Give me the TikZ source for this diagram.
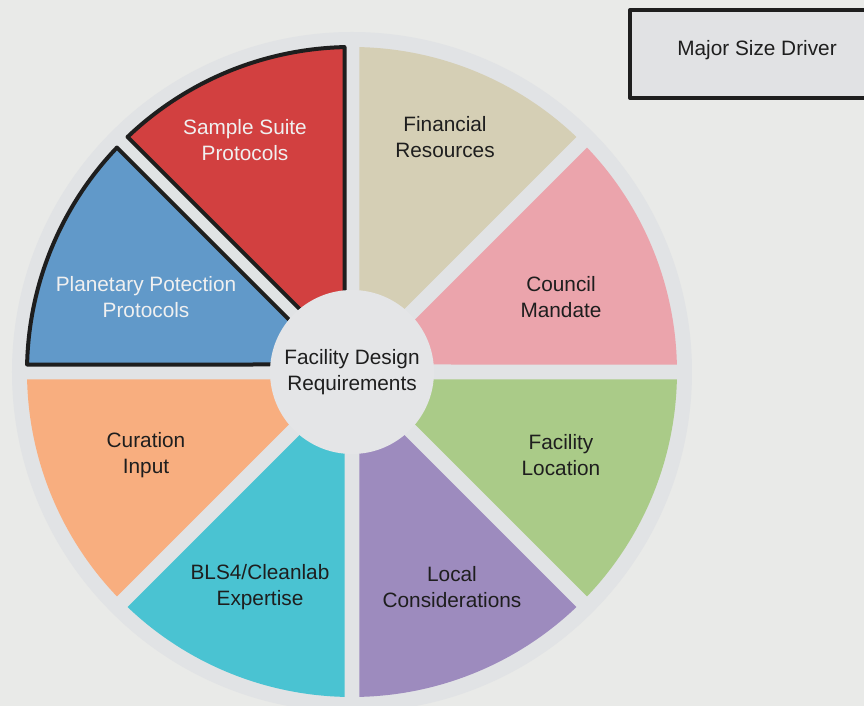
\documentclass[tikz,border=0pt]{standalone}
\usepackage{fontspec}
\setmainfont{Liberation Sans}
\definecolor{pageback}{RGB}{233,234,232}
\definecolor{diskgray}{RGB}{225,227,229}
\definecolor{hubgray}{RGB}{228,229,231}
\definecolor{boxgray}{RGB}{225,226,228}
\definecolor{inkdark}{RGB}{30,30,30}
\definecolor{inkwhite}{RGB}{240,240,240}
\definecolor{councilpink}{RGB}{235,164,172}
\definecolor{financetan}{RGB}{213,207,181}
\definecolor{samplered}{RGB}{210,64,64}
\definecolor{protectblue}{RGB}{97,153,201}
\definecolor{curationorange}{RGB}{248,174,127}
\definecolor{expertcyan}{RGB}{74,195,210}
\definecolor{localpurple}{RGB}{157,139,190}
\definecolor{locationgreen}{RGB}{170,203,136}
\tikzset{
  wedgetext/.style={align=center,inner sep=0pt},
  keybox/.style={draw=inkdark,line width=2pt,fill=boxgray}
}
\begin{document}
\begin{tikzpicture}[x=0.5pt,y=0.5pt,line join=round,line cap=round,font=\fontsize{10.4}{13}\selectfont]
	\useasboundingbox[fill=pageback] (-352,-334) rectangle (512,372);
	\path (0,0) coordinate (M);
	\fill[diskgray] (M) circle[radius=340];
	% eight wedges, 15px gaps between them
	\foreach \a/\c in {0/councilpink,45/financetan,90/samplered,135/protectblue,180/curationorange,225/expertcyan,270/localpurple,315/locationgreen}
		\fill[\c] (\a+22.5:19.6) -- (\a+1.32:325) arc[start angle=\a+1.32,end angle=\a+43.68,radius=325] -- cycle;
	\foreach \a in {90,135}
		\draw[inkdark,line width=2pt] (\a+22.5:19.6) -- (\a+1.32:325) arc[start angle=\a+1.32,end angle=\a+43.68,radius=325] -- cycle;
	\node[circle,fill=hubgray,minimum size=82pt,inner sep=0pt,align=center,text=inkdark] (hub) at (M) {Facility Design\\Requirements};
	\foreach \n/\x/\y/\t/\tc in {council/209/75/{Council\\Mandate}/inkdark,
			finance/93/235/{Financial\\Resources}/inkdark,
			sample/-107/232/{Sample Suite\\Protocols}/inkwhite,
			protect/-206/75/{Planetary Potection\\Protocols}/inkwhite,
			curation/-206/-83/{Curation\\Input}/inkdark,
			expert/-92/-215/{BLS4/Cleanlab\\Expertise}/inkdark,
			local/100/-215/{Local\\Considerations}/inkdark,
			location/209/-83/{Facility\\Location}/inkdark}
		\node[wedgetext,text=\tc] (\n) at (\x,\y) {\t};
	% legend box, cut by the right edge
	\draw[keybox] (278,274) rectangle (516,362);
	\node[text=inkdark] (major) at (405,322) {Major Size Driver};
\end{tikzpicture}
\end{document}
